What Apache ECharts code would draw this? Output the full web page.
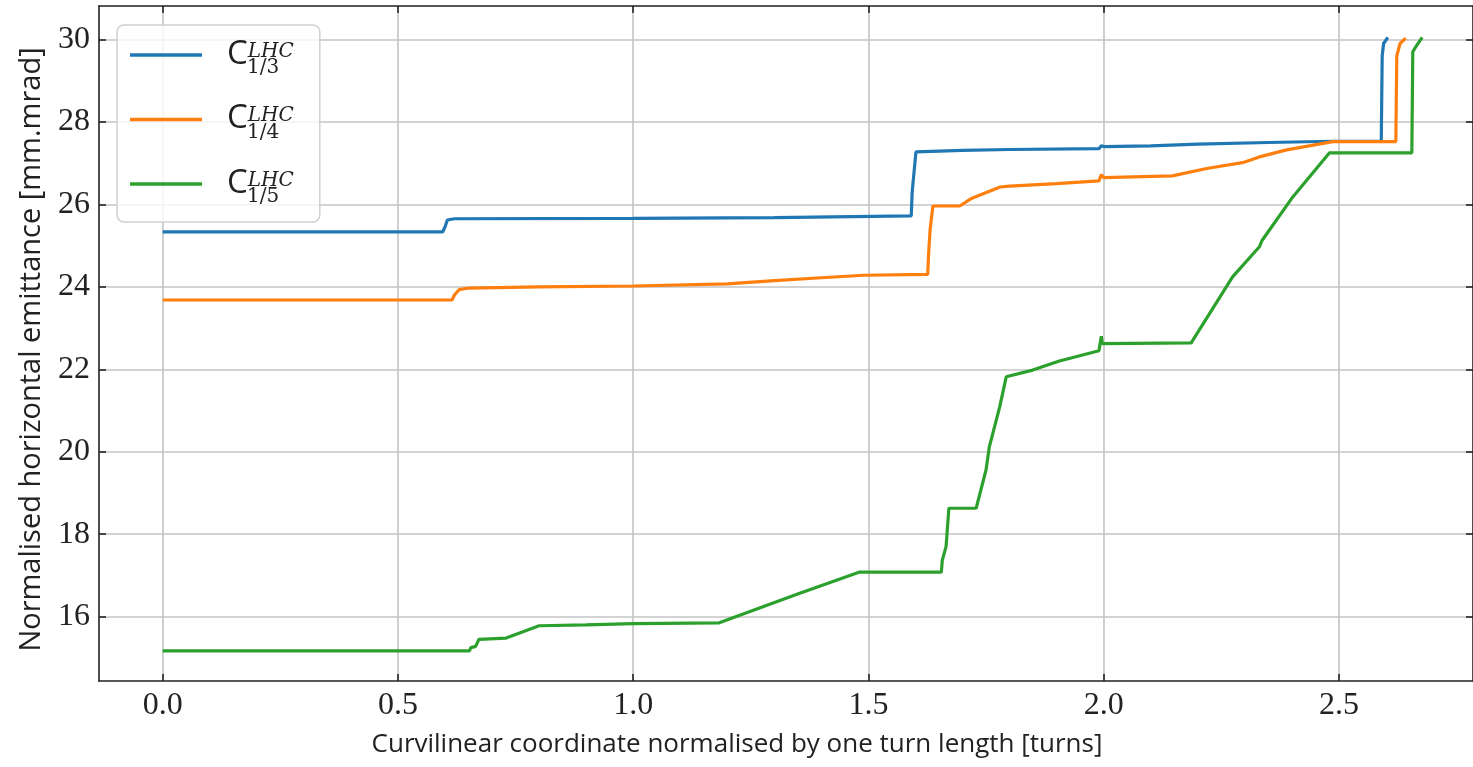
<!DOCTYPE html>
<html><head><meta charset="utf-8">
<script src="https://cdn.jsdelivr.net/npm/echarts@6/dist/echarts.min.js"></script>
<style>html,body{margin:0;padding:0;background:#fff}#c{width:1473px;height:767px}</style>
</head><body><div id="c"></div>
<script>
// ---- data ----
const seriesNames = ['C_1/3^LHC', 'C_1/4^LHC', 'C_1/5^LHC'];
const legendSubs = ['1/3', '1/4', '1/5'];
const xTicks = [0, 0.5, 1.0, 1.5, 2.0, 2.5];
const yTicks = [16, 18, 20, 22, 24, 26, 28, 30];
const xTitle = 'Curvilinear coordinate normalised by one turn length [turns]';
const yTitle = 'Normalised horizontal emittance [mm.mrad]';

const x13 = [0, 0.595, 0.600, 0.605, 0.62, 1.0, 1.3, 1.591, 1.593, 1.601, 1.70, 1.80, 1.99, 1.995, 2.0, 2.1, 2.2, 2.35, 2.487, 2.590, 2.592, 2.595, 2.604];
const y13 = [25.33, 25.33, 25.45, 25.62, 25.65, 25.66, 25.68, 25.72, 26.3, 27.27, 27.31, 27.33, 27.35, 27.42, 27.40, 27.42, 27.46, 27.50, 27.53, 27.53, 29.6, 29.9, 30.05];

const x14 = [0, 0.615, 0.62, 0.63, 0.65, 0.8, 1.0, 1.2, 1.3, 1.4, 1.49, 1.626, 1.628, 1.631, 1.637, 1.694, 1.72, 1.78, 1.80, 1.9, 1.99, 1.995, 2.0, 2.146, 2.219, 2.295, 2.331, 2.389, 2.487, 2.621, 2.623, 2.63, 2.642];
const y14 = [23.68, 23.68, 23.8, 23.93, 23.97, 24.0, 24.02, 24.07, 24.15, 24.22, 24.28, 24.30, 24.82, 25.38, 25.96, 25.96, 26.15, 26.42, 26.44, 26.50, 26.57, 26.72, 26.65, 26.69, 26.87, 27.01, 27.15, 27.32, 27.52, 27.52, 29.6, 29.9, 30.03];

const x15 = [0, 0.652, 0.655, 0.665, 0.668, 0.672, 0.675, 0.73, 0.80, 0.9, 1.0, 1.183, 1.354, 1.48, 1.655, 1.657, 1.665, 1.671, 1.729, 1.750, 1.757, 1.779, 1.793, 1.849, 1.906, 1.99, 1.995, 1.997, 2.0, 2.186, 2.274, 2.331, 2.337, 2.402, 2.480, 2.655, 2.657, 2.665, 2.677];
const y15 = [15.17, 15.17, 15.25, 15.28, 15.35, 15.45, 15.48, 15.48, 15.78, 15.80, 15.83, 15.85, 16.57, 17.08, 17.08, 17.37, 17.70, 18.63, 18.63, 19.56, 20.12, 21.09, 21.82, 21.98, 22.2, 22.45, 22.8, 22.62, 22.64, 22.64, 24.24, 24.97, 25.13, 26.18, 27.25, 27.25, 29.7, 29.85, 30.05];

const colors = ['#1f77b4', '#ff7f0e', '#2ca02c'];
// ---- chart ----
const xs = [x13, x14, x15], ys = [y13, y14, y15];
const pair = (a, b) => a.map((v, i) => [v, b[i]]);
const chart = echarts.init(document.getElementById('c'), null, {renderer: 'canvas'});
const xMin = -0.1354, xMax = 2.785, yMin = 14.44, yMax = 30.81;
const axisCol = '#222';
const gridCol = '#c4c4c4';
const tickFont = 'Liberation Serif';
const titleFont = 'Open Sans';
function xAxisCfg(pos, primary) {
  return {
    type: 'value', position: pos, min: xMin, max: xMax,
    axisLine: {show: true, onZero: false, lineStyle: {color: axisCol, width: 1.6}},
    axisTick: {show: true, inside: true, length: 7, customValues: xTicks, lineStyle: {color: axisCol, width: 1.6}},
    axisLabel: {show: primary, customValues: xTicks, formatter: v => v.toFixed(1), fontFamily: tickFont, fontSize: 32, color: '#222', margin: 9},
    splitLine: {show: primary, lineStyle: {color: gridCol, width: 1.6}},
    name: primary ? xTitle : '', nameLocation: 'middle', nameGap: 51,
    nameTextStyle: {fontFamily: titleFont, fontSize: 26, color: '#222', padding: [0, 98, 0, 0]}
  };
}
function yAxisCfg(pos, primary) {
  return {
    type: 'value', position: pos, min: yMin, max: yMax,
    axisLine: {show: true, onZero: false, lineStyle: {color: axisCol, width: 1.6}},
    axisTick: {show: true, inside: true, length: 7, customValues: yTicks, lineStyle: {color: axisCol, width: 1.6}},
    axisLabel: {show: primary, customValues: yTicks, fontFamily: tickFont, fontSize: 32, color: '#222', margin: 9},
    splitLine: {show: primary, lineStyle: {color: gridCol, width: 1.6}},
    name: primary ? yTitle : '', nameLocation: 'middle', nameGap: 53, nameRotate: 90,
    nameTextStyle: {fontFamily: titleFont, fontSize: 29, color: '#222', padding: [0, 12, 0, 0]}
  };
}
chart.setOption({
  animation: false,
  backgroundColor: '#fff',
  grid: {left: 99, right: 0, top: 6, bottom: 86, containLabel: false},
  xAxis: [xAxisCfg('bottom', true), xAxisCfg('top', false)],
  yAxis: [yAxisCfg('left', true), yAxisCfg('right', false)],
  legend: {
    orient: 'vertical', left: 117, top: 25,
    padding: [13, 26, 15, 13], itemGap: 24.5,
    itemWidth: 72, itemHeight: 3.5, icon: 'rect',
    backgroundColor: 'rgba(255,255,255,0.8)', borderColor: '#d0d0d0', borderWidth: 1.5, borderRadius: 7,
    formatter: name => {
      const i = seriesNames.indexOf(name);
      return '{c|C}{sup|LHC}\n{gap| }{sub|' + legendSubs[i] + '}';
    },
    textStyle: {
      rich: {
        c: {fontFamily: 'Open Sans', fontSize: 33, color: '#222', lineHeight: 26, padding: [0, 0, 0, 20]},
        sup: {fontFamily: 'DejaVu Serif', fontStyle: 'italic', fontSize: 20, color: '#222', lineHeight: 13, verticalAlign: 'top'},
        gap: {width: 40, fontSize: 1, lineHeight: 1},
        sub: {fontFamily: 'DejaVu Serif', fontSize: 20, color: '#222', lineHeight: 1}
      }
    },
    data: seriesNames
  },
  series: seriesNames.map((n, i) => ({
    name: n, type: 'line', xAxisIndex: 0, yAxisIndex: 0,
    data: pair(xs[i], ys[i]), symbol: 'none', showSymbol: false,
    lineStyle: {color: colors[i], width: 3.2}, itemStyle: {color: colors[i]},
    z: 3 + i
  }))
});
</script>
</body></html>
